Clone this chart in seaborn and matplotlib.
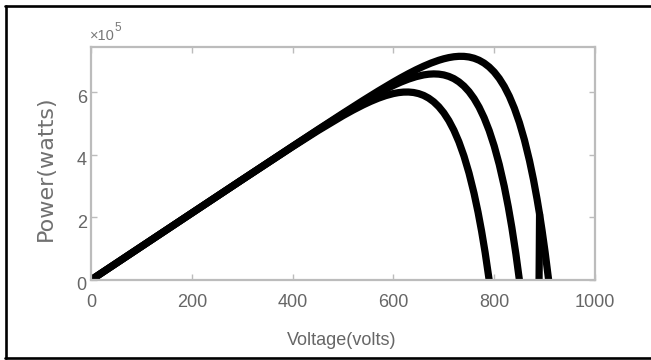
import matplotlib
matplotlib.use('Agg')
import matplotlib.pyplot as plt
import matplotlib.transforms as mtransforms
from matplotlib.lines import Line2D
import seaborn as sns

# P-V curves (volts, watts)
volts_1 = [0, 100, 200, 300, 400, 450, 500, 520, 540, 555, 570, 585, 600, 610, 620, 630, 640, 650, 660,
           670, 680, 690, 700, 710, 720, 730, 740, 750, 760, 768, 775, 782, 790]
power_1 = [0, 107000, 213940, 320640, 426100, 477210, 525470, 543310, 559850, 571140, 581190, 589630,
           596140, 599130, 600840, 601030, 599540, 595970, 590170, 581480, 569710, 554170, 534410,
           509610, 478960, 441630, 396370, 342030, 277140, 216370, 155900, 88020, 0]

volts_2 = [0, 100, 200, 300, 400, 450, 500, 520, 540, 555, 570, 585, 600, 615, 630, 645, 660, 670, 680,
           690, 700, 710, 720, 730, 740, 750, 760, 770, 780, 790, 800, 810, 820, 828, 835, 843, 850]
power_2 = [0, 107000, 213970, 320850, 427170, 479640, 530860, 550710, 570010, 583980, 597420, 610180,
           622050, 632890, 642360, 650110, 655760, 658060, 658990, 658270, 655750, 650990, 643830,
           633550, 619980, 602360, 580220, 552670, 518870, 477930, 428510, 369390, 299020, 233270,
           167970, 83530, 0]

volts_3 = [0, 100, 200, 300, 400, 450, 500, 540, 570, 600, 615, 630, 645, 660, 675, 690, 700, 710, 720,
           730, 740, 750, 760, 770, 780, 790, 800, 810, 820, 830, 840, 850, 860, 870, 878, 885, 890,
           895, 901, 908]
power_3 = [0, 107000, 213990, 320930, 427630, 480670, 533150, 574320, 604320, 633090, 646800, 659910,
           672260, 683650, 693850, 702540, 707330, 711130, 713810, 715170, 715020, 713100, 709110,
           702700, 693550, 681150, 665030, 644480, 618920, 587480, 549260, 503130, 447770, 381760,
           320170, 258900, 210650, 158200, 89270, 0]

# short inner branch near 890 V
volts_4 = [890, 889.5, 889]
power_4 = [210650, 100000, 0]

x_ticks = [0, 200, 400, 600, 800, 1000]
y_ticks = [0, 200000, 400000, 600000]
y_tick_labels = ['0', '2', '4', '6']

sns.set_theme(style='white')
plt.rcParams['font.family'] = ['Liberation Sans', 'DejaVu Sans']

W, H = 651, 360
fig = plt.figure(figsize=(W / 100, H / 100), dpi=100)
fig.patch.set_facecolor('white')
ax = fig.add_axes([91 / W, 80 / H, 504 / W, 233 / H])

for v, p in [(volts_1, power_1), (volts_2, power_2), (volts_3, power_3), (volts_4, power_4)]:
    sns.lineplot(x=v, y=p, ax=ax, color='black', linewidth=5.2, sort=False, estimator=None,
                 solid_joinstyle='round', solid_capstyle='round')

ax.set_xlim(0, 1000)
ax.set_ylim(0, 745000)
ax.set_xticks(x_ticks)
ax.set_xticklabels([str(t) for t in x_ticks])
ax.set_yticks(y_ticks)
ax.set_yticklabels(y_tick_labels)

grey = '#bcbcbc'
for s in ax.spines.values():
    s.set_color(grey)
    s.set_linewidth(1.6)
ax.tick_params(direction='in', length=4, width=1, color=grey, labelcolor='#666666',
               labelsize=13, top=True, right=True, bottom=True, left=True)
ax.tick_params(axis='x', pad=10)
ax.tick_params(axis='y', pad=3)

# nudge y tick labels down a little, like the original
shift = mtransforms.ScaledTranslation(0, -4 / 100, fig.dpi_scale_trans)
for lab in ax.get_yticklabels():
    lab.set_transform(lab.get_transform() + shift)

ax.set_xlabel('Voltage(volts)', fontsize=13, color='#666666')
ax.xaxis.set_label_coords(0.498, -0.225)
ax.set_ylabel('Power(watts)', fontsize=16, color='#707070', family='DejaVu Sans')
ax.yaxis.set_label_coords(-0.07, 0.48)

# exponent marker
fig.text(90 / W, 1 - 40 / H, '×10', fontsize=10.5, color='#777777', va='baseline')
fig.text(114 / W, 1 - 31 / H, '5', fontsize=8.5, color='#777777', va='baseline')

# black frame around the picture (open on the right)
lw = 1.9
fig.add_artist(Line2D([5.5 / W, 5.5 / W], [1 - 5.5 / H, 1 - 358 / H], color='black', lw=lw))
fig.add_artist(Line2D([5 / W, 1], [1 - 5.5 / H, 1 - 5.5 / H], color='black', lw=lw))
fig.add_artist(Line2D([5 / W, 1], [1 - 358 / H, 1 - 358 / H], color='black', lw=lw))

fig.savefig('out.png', dpi=100)
